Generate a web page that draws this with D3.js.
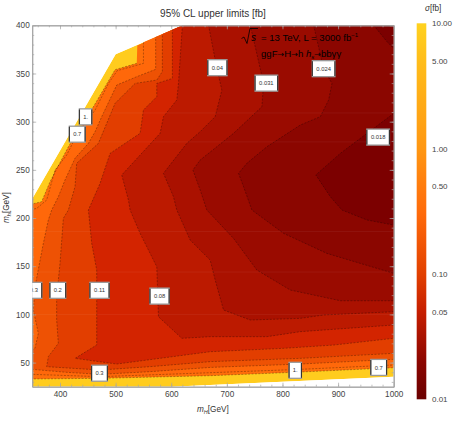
<!DOCTYPE html>
<html>
<head>
<meta charset="utf-8">
<script src="https://cdn.jsdelivr.net/npm/d3@7"></script>
<style>
  html, body { margin: 0; padding: 0; background: #fff; }
  text { font-family: "Liberation Sans", Arial, sans-serif; fill: #333; }
</style>
</head>
<body>
<svg id="chart" width="457" height="423"></svg>
<script>
// mass plane the limits were computed on, [mH, mh]
const validRegion = [[350,220],[500,370],[621,400],[1000,400],[1000,35.4],[600,25],[350,25]];

// contour lines, [mH, mh]
const contour1 = [[621,400],[539,379],[538,360.5],[499,354],[460,315.5],[415,274],[382,237.7],[367,217],[350,214.6],[350,33],[472,33.7],[670,36.4],[832,40.2],[1000,44.7]];
const contour07 = [[550,400],[550,360.5],[503,353],[487,339.7],[463,312],[431,287.2],[412,265.4],[391,249.8],[376,218.7],[358,210],[350,209],[350,37.8],[472,35.4],[670,39.5],[832,43],[1000,47.5]];
const contour03 = [[572,400],[572,354.3],[538,346.7],[502,338],[475,305.2],[463,289.6],[451,277.5],[427,262],[409,239.5],[397,222.2],[385,208.3],[379,198],[370,173.7],[355,128.8],[352,104.6],[361,80.4],[355,64.8],[350,63],[350,43],[412,39.9],[472,37.8],[562,40.6],[670,45],[832,48.5],[1000,53.4]];
const contour02 = [[584,400],[584,352],[574,343.2],[535,339.7],[499,319],[484,298.3],[469,277.5],[430,256.8],[427,232.6],[415,208.3],[406,199.7],[400,153],[394,118.4],[394,94.2],[397,70],[379,56.2],[376,45.8],[472,42.3],[562,45.8],[670,51],[832,54.4],[1000,59.6]];
const contour011 = [[602,400],[602,344.9],[574,339.7],[574,325.9],[550,312.1],[544,287.9],[490,267.1],[472,236],[451,208.3],[457,173.7],[466,146],[466,97.6],[466,68.3],[427,54.4],[502,48.5],[670,61.3],[802,64.8],[892,68.2],[1000,75.2]];
const contour008 = [[620,400],[613,339.7],[610,322.5],[586,305.2],[580,287.9],[511,244.7],[523,218.7],[526,208.3],[544,184.1],[574,149.5],[577,97.6],[619,75.2],[670,76.9],[772,76.9],[832,82.1],[1000,89]];
const contour004 = [[667,400],[682,355.3],[691,332.8],[679,305.2],[652,289.6],[628,277.5],[586,246.4],[604,222.2],[610,208.3],[634,177.2],[670,156.4],[679,135.7],[694,104.6],[742,94.2],[832,95.9],[874,99.4],[1000,102.8]];
const contour0031 = [[742,400],[751,377.8],[766,339.7],[763,315.5],[712,287.9],[682,274],[652,260.2],[639,249.8],[652,229.1],[664,208.3],[712,178.9],[754,146],[814,125.3],[904,114.2],[1000,114.2]];
const contour0024 = [[856,400],[874,354.6],[889,339.7],[883,322.5],[868,305.2],[832,296.5],[772,274],[736,256.8],[721,246.4],[730,232.6],[745,208.3],[802,184.1],[880,163.3],[1000,142.6]];
const contour0018 = [[1000,308.6],[952,287.9],[904,267.1],[860,244.7],[886,222.2],[907,208.3],[952,198],[1000,192.7]];
const contour0018corner = [[964,400],[988,383],[1000,376]];

const bands = [contour1, contour07, contour03, contour02, contour011, contour008, contour004, contour0031, contour0024, contour0018, contour0018corner];
const bandColors = ["#ff6e0a", "#ff680a", "#ee5204", "#e23e00", "#d32400", "#bc1a00", "#aa1100", "#9a0b00", "#8b0600", "#7c0000", "#7c0000"];
const regionColor = "#ffcc1e";

const labelText = ["1.", "0.7", "0.04", "0.031", "0.024", "0.018", "0.3", "0.2", "0.11", "0.08", "0.3", "1.", "0.7"];
const labelMH = [446, 431, 683, 771, 874, 972, 353, 396, 471, 579, 471, 823, 973];
const labelMh = [305, 287, 356, 340, 355, 284, 125, 125, 125, 119, 39, 42, 45];

const barValues = [10, 5, 1, 0.5, 0.3, 0.1, 0.05, 0.02, 0.01];
const barColors = ["#ffd21f", "#ffbd1a", "#ff9712", "#ff7c0e", "#ff6a0a", "#e24000", "#c61e00", "#8c0600", "#6a0000"];
const barTicks = [10, 5, 1, 0.5, 0.1, 0.05, 0.01];

const xTicks = [400, 500, 600, 700, 800, 900, 1000];
const yTicks = [50, 100, 150, 200, 250, 300, 350, 400];
const xMinor = d3.range(360, 1000, 20);
const yMinor = d3.range(30, 400, 10);
const seams = [309, 279, 186, 144, 100];

const svg = d3.select("#chart");
const x = d3.scaleLinear().domain([350, 1000]).range([32.2, 393.7]);
const y = d3.scaleLinear().domain([25, 400]).range([386.7, 25.3]);
const line = d3.line().x(d => x(d[0])).y(d => y(d[1]));

const defs = svg.append("defs");
defs.append("clipPath").attr("id", "valid").append("path").attr("d", line(validRegion) + "Z");
defs.append("clipPath").attr("id", "plot").append("rect")
  .attr("x", x(350)).attr("y", y(400)).attr("width", x(1000) - x(350)).attr("height", y(25) - y(400));

const plot = svg.append("g").attr("clip-path", "url(#valid)");
plot.append("path").attr("d", line(validRegion) + "Z").attr("fill", regionColor);

// nested regions, lightest first, each closed round the top right corner
bands.forEach((pts, i) => {
  const closed = pts.concat([[1000, 400], [pts[0][0], 400]]);
  plot.append("path").attr("d", line(closed) + "Z").attr("fill", bandColors[i]);
});

plot.selectAll("line.seam").data(seams).enter().append("line")
  .attr("class", "seam")
  .attr("x1", x(350)).attr("x2", x(1000))
  .attr("y1", d => y(d)).attr("y2", d => y(d))
  .attr("stroke", "#fff").attr("stroke-opacity", 0.07).attr("stroke-width", 0.8);

bands.forEach((pts, i) => {
  plot.append("path")
    .attr("d", line(i === 0 ? pts.slice(2) : pts))
    .attr("fill", "none")
    .attr("stroke", "#000")
    .attr("stroke-opacity", 0.42)
    .attr("stroke-width", 0.7)
    .attr("stroke-dasharray", "2,1.4");
});

// frame and ticks
function frame(g, axis) {
  g.call(axis);
  g.select(".domain").attr("stroke", "#a6a6a6").attr("stroke-width", 1);
  g.selectAll("line").attr("stroke", "#a6a6a6").attr("stroke-width", 0.7);
}
const noText = () => "";
frame(svg.append("g").attr("transform", `translate(0,${y(25)})`), d3.axisBottom(x).tickValues(xMinor).tickSize(-2).tickSizeOuter(0).tickFormat(noText));
frame(svg.append("g").attr("transform", `translate(0,${y(400)})`), d3.axisTop(x).tickValues(xMinor).tickSize(-2).tickSizeOuter(0).tickFormat(noText));
frame(svg.append("g").attr("transform", `translate(${x(350)},0)`), d3.axisLeft(y).tickValues(yMinor).tickSize(-2).tickSizeOuter(0).tickFormat(noText));
frame(svg.append("g").attr("transform", `translate(${x(1000)},0)`), d3.axisRight(y).tickValues(yMinor).tickSize(-2).tickSizeOuter(0).tickFormat(noText));

const xAxis = svg.append("g").attr("transform", `translate(0,${y(25)})`);
frame(xAxis, d3.axisBottom(x).tickValues(xTicks).tickSize(-4).tickPadding(4).tickSizeOuter(0).tickFormat(d3.format("d")));
const yAxis = svg.append("g").attr("transform", `translate(${x(350)},0)`);
frame(yAxis, d3.axisLeft(y).tickValues(yTicks).tickSize(-4).tickPadding(2.5).tickSizeOuter(0));
svg.append("g").attr("transform", `translate(0,${y(400)})`).call(g => frame(g, d3.axisTop(x).tickValues(xTicks).tickSize(-4).tickFormat(noText).tickSizeOuter(0)));
svg.append("g").attr("transform", `translate(${x(1000)},0)`).call(g => frame(g, d3.axisRight(y).tickValues(yTicks).tickSize(-4).tickFormat(noText).tickSizeOuter(0)));
[xAxis, yAxis].forEach(g => g.selectAll("text").attr("font-size", 8.2).attr("font-family", null).style("fill", "#444"));

// contour labels
const labels = svg.append("g").attr("clip-path", "url(#plot)")
  .selectAll("g").data(labelText).enter().append("g")
  .attr("transform", (d, i) => `translate(${x(labelMH[i])},${y(labelMh[i])})`);
const boxW = d => 5.6 + 3.4 * d.length;
labels.append("rect")
  .attr("x", d => -boxW(d) / 2).attr("y", -8)
  .attr("width", boxW).attr("height", 16)
  .attr("fill", "#fff").attr("stroke", "#9a9a9a").attr("stroke-width", 1.3);
labels.append("path")
  .attr("d", d => `M${-boxW(d) / 2},-7.4V7.4M${boxW(d) / 2},-7.4V7.4`)
  .attr("stroke", "#333").attr("stroke-width", 1.1).attr("fill", "none");
labels.append("text")
  .attr("text-anchor", "middle").attr("y", 2.1)
  .attr("font-size", 5.8)
  .text(d => d);

// title and annotation
svg.append("text").attr("x", 213).attr("y", 17.3).attr("text-anchor", "middle")
  .attr("font-size", 10).text("95% CL upper limits [fb]");

svg.append("path").attr("d", "M241.5,38.5L244,37L247,43.5L250,28.5H258")
  .attr("fill", "none").attr("stroke", "#000").attr("stroke-width", 0.8);
svg.append("text").attr("x", 251).attr("y", 41).attr("font-size", 10)
  .attr("font-style", "italic").style("fill", "#000").text("s");
const note1 = svg.append("text").attr("x", 261).attr("y", 40.5).attr("font-size", 9.6).style("fill", "#000");
note1.append("tspan").text("= 13 TeV, L = 3000 fb");
note1.append("tspan").attr("dy", -3.5).attr("font-size", 6).text("−1");
const arrow = s => s.append("tspan").style("font-family", '"DejaVu Sans"').attr("font-size", 8).text("→");
const note2 = svg.append("text").attr("x", 261).attr("y", 57).attr("font-size", 9.6).style("fill", "#000");
note2.append("tspan").text("ggF");
arrow(note2);
note2.append("tspan").text("H");
arrow(note2);
note2.append("tspan").text("h ");
note2.append("tspan").attr("font-style", "italic").text("h");
note2.append("tspan").attr("dy", 2).attr("font-size", 6).attr("font-style", "italic").text("s");
arrow(note2).attr("dy", -2);
note2.append("tspan").text("bbγγ");

const xTitle = svg.append("text").attr("x", 197).attr("y", 412).attr("font-size", 8.2);
xTitle.append("tspan").attr("font-style", "italic").text("m");
xTitle.append("tspan").attr("font-size", 5.5).attr("font-style", "italic").attr("dy", 1.5).text("H");
xTitle.append("tspan").attr("dy", -1.5).text("[GeV]");

const yTitle = svg.append("text").attr("transform", "translate(9,223) rotate(-90)").attr("font-size", 8.2);
yTitle.append("tspan").attr("font-style", "italic").text("m");
yTitle.append("tspan").attr("font-size", 5.5).attr("font-style", "italic").attr("dy", 1.5).text("h");
yTitle.append("tspan").attr("dy", -1.5).text("[GeV]");

// colour bar
const bar = d3.scaleLog().domain([10, 0.01]).range([23.3, 399.3]);
const gradient = defs.append("linearGradient").attr("id", "sigma").attr("x1", 0).attr("x2", 0).attr("y1", 0).attr("y2", 1);
barValues.forEach((v, i) => {
  gradient.append("stop")
    .attr("offset", (bar(v) - bar(10)) / (bar(0.01) - bar(10)))
    .attr("stop-color", barColors[i]);
});
svg.append("rect").attr("x", 416.7).attr("y", bar(10)).attr("width", 9.6)
  .attr("height", bar(0.01) - bar(10)).attr("fill", "url(#sigma)");
svg.append("g").selectAll("text").data(barTicks).enter().append("text")
  .attr("x", 432).attr("y", d => bar(d) + 3).attr("font-size", 8)
  .style("fill", "#444").text(d => d3.format(".2f")(d));
const barTitle = svg.append("text").attr("x", 425).attr("y", 11).attr("font-size", 8.2);
barTitle.append("tspan").attr("font-style", "italic").text("σ");
barTitle.append("tspan").text("[fb]");
</script>
</body>
</html>
